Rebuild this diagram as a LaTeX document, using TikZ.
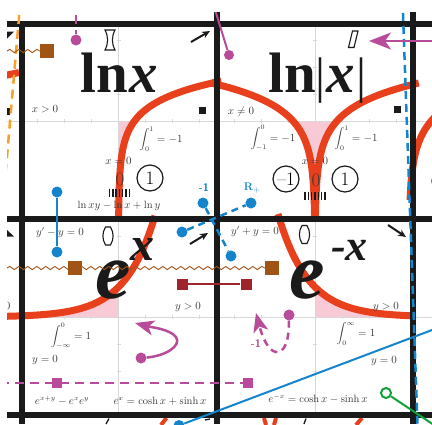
\documentclass[tikz,border=0pt]{standalone}
\usepackage{fontspec}
\newfontfamily\bigserif{Liberation Serif}
\usetikzlibrary{arrows.meta,decorations.pathmorphing}
\definecolor{redc}{RGB}{232,64,28}
\definecolor{pinkc}{RGB}{247,202,214}
\definecolor{magc}{RGB}{184,76,154}
\definecolor{bluec}{RGB}{20,132,204}
\definecolor{brownc}{RGB}{160,84,22}
\definecolor{maroonc}{RGB}{160,36,44}
\definecolor{orangec}{RGB}{248,160,40}
\definecolor{greenc}{RGB}{20,160,60}
\definecolor{gridc}{RGB}{26,26,26}
\definecolor{axisc}{RGB}{216,216,216}
\definecolor{txtc}{RGB}{55,55,55}
\tikzset{
  gridline/.style={draw=gridc, line width=6pt},
  axisline/.style={draw=axisc, line width=0.9pt},
  tickline/.style={draw=axisc, line width=0.8pt},
  redcurve/.style={draw=redc, line width=7pt},
  pinkfill/.style={fill=pinkc},
  txt/.style={text=txtc, inner sep=0pt, font=\fontsize{10.5}{12}\selectfont},
  bigtxt/.style={inner sep=0pt, anchor=base west, text=gridc},
  circnum/.style={circle, draw=gridc, line width=1.2pt, minimum size=26pt, inner sep=0pt, font=\fontsize{19}{20}\selectfont},
  plainnum/.style={inner sep=0pt, font=\fontsize{19}{20}\selectfont, text=txtc},
  bdot/.style={circle, fill=bluec, inner sep=0pt, minimum size=11pt},
  mdot/.style={circle, fill=magc, inner sep=0pt, minimum size=11pt},
  brsq/.style={rectangle, fill=brownc, inner sep=0pt, minimum size=14pt},
  mrsq/.style={rectangle, fill=maroonc, inner sep=0pt, minimum size=11pt},
  mgsq/.style={rectangle, fill=magc, inner sep=0pt, minimum size=10pt},
  bksq/.style={rectangle, fill=gridc, inner sep=0pt, minimum size=7pt},
  blackarrow/.style={draw=gridc, line width=2pt, -{Stealth[length=8pt,width=7pt]}},
  bluedash/.style={draw=bluec, line width=2.5pt, dash pattern=on 7pt off 5pt},
  magdash/.style={draw=magc, line width=2.5pt, dash pattern=on 9pt off 6pt},
  wavy/.style={draw=brownc, line width=0.9pt, decorate, decoration={snake, amplitude=1.6pt, segment length=9pt}},
  symb/.style={draw=gridc, line width=1.1pt, fill=white},
  hatch/.style={draw=gridc, line width=1.4pt},
  frag/.style={draw=redc, line width=4pt}
}
\begin{document}
\begin{tikzpicture}[x=1pt,y=-1pt]
\useasboundingbox (0,0) rectangle (432,424);
\clip (7,12) rectangle (432,424);

% ---------- pink areas ----------
\fill[pinkfill] (118.5,121) -- plot[domain=121:218,samples=60,variable=\t] ({118.5+16*exp((121-\t)/21.5)},{\t}) -- cycle;
\fill[pinkfill] (293,121) -- (337,121) -- plot[domain=121:218,samples=60,variable=\t] ({315+22*exp((121-\t)/24.5)},{\t}) -- plot[domain=218:121,samples=60,variable=\t] ({315-22*exp((121-\t)/24.5)},{\t}) -- cycle;
\fill[pinkfill] (7,317) -- plot[domain=7:118.5,samples=60] (\x,{317-30*exp((\x-118.5)/30)}) -- (118.5,317) -- cycle;
\fill[pinkfill] (315,317) -- plot[domain=315:413,samples=60] (\x,{317-30*exp((315-\x)/30)}) -- (413,317) -- cycle;

% ---------- gray axes ----------
\draw[axisline] (7,121) -- (432,121);
\draw[axisline] (7,317) -- (432,317);
\draw[axisline] (118.5,24) -- (118.5,414);
\draw[axisline] (315,24) -- (315,414);
\foreach \cx in {118.5,315} {
  \foreach \k in {-3,-2,-1,1,2,3} {
    \draw[tickline] (\cx+27*\k,119) -- (\cx+27*\k,123);
    \draw[tickline] (\cx+27*\k,315) -- (\cx+27*\k,319);
    \draw[tickline] (\cx-2,121+27*\k) -- (\cx+2,121+27*\k);
    \draw[tickline] (\cx-2,317+27*\k) -- (\cx+2,317+27*\k);
  }
}

% ---------- red curves ----------
\draw[redcurve] plot[domain=218:81,samples=90,variable=\t] ({118.5+16*exp((121-\t)/21.5)},{\t});
\draw[redcurve] plot[domain=218:83,samples=90,variable=\t] ({315+22*exp((121-\t)/24.5)},{\t});
\draw[redcurve] plot[domain=218:83,samples=90,variable=\t] ({315-22*exp((121-\t)/24.5)},{\t});
\draw[redcurve] plot[domain=5:155,samples=80] (\x,{317-30*exp((\x-118.5)/30)});
\draw[redcurve] plot[domain=278:415,samples=80] (\x,{317-30*exp((315-\x)/30)});
\draw[redcurve] plot[domain=200:110,samples=40,variable=\t] ({409+6*exp((155-\t)/26)},{\t});
\draw[redcurve] (5,75.5) -- (19,72.5);
% fragments of the row below
\draw[frag] (161,425) -- (166.5,418);
\draw[frag] (264,418) -- (266,425);
\draw[frag] (276,418) -- (274,425);
\draw[frag] (356,425) -- (362,418);

% ---------- black grid ----------
\draw[gridline] (7,24) -- (432,24);
\draw[gridline] (7,218.5) -- (432,218.5);
\draw[gridline] (7,414.5) -- (432,414.5);
\draw[gridline] (21.5,21) -- (21.5,424);
\draw[gridline] (217,12) -- (217,424);
\draw[gridline] (413,12) -- (413,424);

% ---------- partial neighbours ----------
\fill[gridc] (5,108) rectangle (10,115);
\fill[gridc] (7,31.5) -- (14,31.5) -- (7,38.5) -- cycle;
\fill[gridc] (7,230) -- (14,236.5) -- (7,236.5) -- cycle;
\node[txt] (n0) at (7.5,306) {$0$};
\draw[gridc, line width=1.2pt] (445,181) circle (13pt);
\draw[gridc, line width=1.3pt] (106,424) -- (109,418.5);
\draw[gridc, line width=1.3pt] (304,424) -- (306,418.5);
\draw[gridc, line width=1.3pt] (205,420) -- (210,419);

% ---------- big titles ----------
\node[bigtxt, font=\bigserif\bfseries\fontsize{57}{60}\selectfont] (lnA) at (80,92) {ln};
\node[bigtxt, font=\bigserif\bfseries\itshape\fontsize{57}{60}\selectfont] (xA) at (129.5,92) {x};
\node[bigtxt, font=\bigserif\bfseries\fontsize{57}{60}\selectfont] (lnB) at (268,92) {ln};
\node[inner sep=0pt, anchor=base, text=gridc, font=\bigserif\fontsize{50}{52}\selectfont] (barL) at (320.5,92) {|};
\node[bigtxt, font=\bigserif\bfseries\itshape\fontsize{57}{60}\selectfont] (xB) at (326,92) {x};
\node[inner sep=0pt, anchor=base, text=gridc, font=\bigserif\fontsize{50}{52}\selectfont] (barR) at (361.5,92) {|};
\node[bigtxt, font=\bigserif\bfseries\itshape\fontsize{80}{84}\selectfont] (eC) at (95,298) {e};
\node[bigtxt, font=\bigserif\bfseries\itshape\fontsize{48}{50}\selectfont] (xC) at (130,260) {x};
\node[bigtxt, font=\bigserif\bfseries\itshape\fontsize{80}{84}\selectfont] (eD) at (289,298) {e};
\node[bigtxt, font=\bigserif\bfseries\itshape\fontsize{44}{46}\selectfont] (xD) at (331,260) {-x};

% ---------- small symbols ----------
\draw[symb] (105,30) -- (115,30) .. controls (111.5,37) and (111.5,43) .. (115,50) -- (105,50) .. controls (108.5,43) and (108.5,37) .. (105,30) -- cycle;
\draw[symb] (348.5,47.5) -- (354,47.5) -- (358,31) -- (352.5,31) -- cycle;
\draw[symb] (105.5,227) -- (110.5,227) .. controls (114,233) and (114,239) .. (110.5,245) -- (105.5,245) .. controls (102,239) and (102,233) .. (105.5,227) -- cycle;
\draw[symb] (302,225.5) -- (307,225.5) .. controls (310.5,231.5) and (310.5,237.5) .. (307,243.5) -- (302,243.5) .. controls (298.5,237.5) and (298.5,231.5) .. (302,225.5) -- cycle;
\node[bksq] (sqA) at (202,110) {};
\node[bksq] (sqB) at (397.5,109.5) {};

% ---------- texts ----------
\node[txt] (t1) at (45,109) {$x>0$};
\node[txt] (t2) at (241,112) {$x\neq 0$};
\node[txt] (t3) at (161,139) {$\displaystyle\int_{0}^{1}=-1$};
\node[txt] (t4) at (273,138) {$\displaystyle\int_{-1}^{0}=-1$};
\node[txt] (t5) at (356,138) {$\displaystyle\int_{0}^{1}=-1$};
\node[txt] (t6) at (118.5,161) {$x=0$};
\node[txt] (t7) at (315,161) {$x=0$};
\node[txt] (t8) at (119,206) {$\ln xy-\ln x+\ln y$};
\node[txt] (t9) at (60,233) {$y'-y=0$};
\node[txt] (t10) at (255,232) {$y'+y=0$};
\node[txt] (t11) at (188,307) {$y>0$};
\node[txt] (t12) at (386,307) {$y>0$};
\node[txt] (t13) at (71,336) {$\displaystyle\int_{-\infty}^{0}=1$};
\node[txt] (t14) at (356,334) {$\displaystyle\int_{0}^{\infty}=1$};
\node[txt] (t15) at (45,360) {$y=0$};
\node[txt] (t16) at (384,361) {$y=0$};
\node[txt] (t17) at (62,401) {$e^{x+y}-e^{x}e^{y}$};
\node[txt] (t18) at (160,401) {$e^{x}=\cosh x+\sinh x$};
\node[txt] (t19) at (318,399) {$e^{-x}=\cosh x-\sinh x$};

% ---------- numbers ----------
\node[plainnum] (z1) at (120,179) {0};
\node[circnum] (c1) at (150,178) {1};
\node[circnum] (c2) at (286,179) {--1};
\node[plainnum] (z2) at (316,180) {0};
\node[circnum] (c3) at (345,179) {1};
\foreach \i in {0,...,6} { \draw[hatch] (109.5+\i*3.3,188.5) -- ++(0,8.5); }
\foreach \i in {0,...,6} { \draw[hatch] (305+\i*3.3,191.5) -- ++(0,8.5); }

% ---------- black arrows ----------
\coordinate (ka1) at (191,42); \coordinate (ka2) at (210,31);
\draw[blackarrow] (ka1) -- (ka2);
\coordinate (kb1) at (190,244); \coordinate (kb2) at (208,233);
\draw[blackarrow] (kb1) -- (kb2);
\coordinate (kc1) at (388,225); \coordinate (kc2) at (406,237);
\draw[blackarrow] (kc1) -- (kc2);

% ---------- orange ----------
\coordinate (or1) at (20.5,0); \coordinate (or2) at (5,180);
\draw[draw=orangec, line width=2.5pt, dash pattern=on 9pt off 6pt] (or1) -- (or2);

% ---------- brown ----------
\node[brsq] (br1) at (47,51) {};
\coordinate (bw1) at (7,51);
\draw[wavy] (bw1) -- (br1.west);
\node[brsq] (br3) at (272,268) {};
\coordinate (bw2) at (7,268);
\draw[wavy] (bw2) -- (br3.west);
\node[brsq] (br2) at (75,268) {};

% ---------- maroon ----------
\node[mrsq] (mr1) at (182,284) {};
\node[mrsq] (mr2) at (246,284) {};
\draw[draw=maroonc, line width=2.5pt] (mr1) -- (mr2);

% ---------- blue ----------
\node[bdot] (b1) at (57,192) {};
\node[bdot] (b2) at (57,252) {};
\draw[draw=bluec, line width=2.5pt] (b1) -- (b2);
\node[bdot] (b3) at (203,203) {};
\node[bdot] (b4) at (251,203) {};
\node[bdot] (b5) at (182,232) {};
\node[bdot] (b6) at (231,256) {};
\draw[bluedash] (b5) -- (b4);
\draw[bluedash] (b3) -- (b6);
\node[text=bluec, inner sep=0pt, font=\sffamily\bfseries\fontsize{11}{12}\selectfont] (lb1) at (204,188) {-1};
\node[text=bluec, inner sep=0pt, font=\bfseries\fontsize{11}{12}\selectfont] (lb2) at (252,188) {R$_{+}$};
\coordinate (bv1) at (402.5,0); \coordinate (bv2) at (417.5,424);
\draw[bluedash, dash pattern=on 8pt off 5pt] (bv1) -- (bv2);
\node[bdot] (b7) at (179,425.5) {};
\coordinate (bl2) at (440,327);
\draw[draw=bluec, line width=2pt] (b7) -- (bl2);

% ---------- green ----------
\node[circle, draw=greenc, fill=white, line width=2pt, minimum size=10pt, inner sep=0pt] (g1) at (386,393) {};
\coordinate (g2) at (440,429);
\draw[draw=greenc, line width=2pt] (g1) -- (g2);

% ---------- magenta ----------
\node[mdot] (m1) at (76,40) {};
\coordinate (m1t) at (76,0);
\draw[magdash] (m1t) -- (m1);
\node[mdot, minimum size=10pt] (m2) at (229,55) {};
\coordinate (m2t) at (212,0);
\draw[draw=magc, line width=2pt] (m2t) -- (m2);
\coordinate (ma1) at (440,41); \coordinate (ma2) at (369,41);
\draw[draw=magc, line width=2.5pt, -{Stealth[length=22pt,width=17pt,inset=6pt]}] (ma1) -- (ma2);
\node[mdot] (m3) at (141,358) {};
\coordinate (m3e) at (135,323);
\draw[draw=magc, line width=2.5pt, -{Stealth[length=19pt,width=15pt,inset=5pt]}] (m3) .. controls (165,356) and (182,346) .. (176,337) .. controls (170,329) and (150,327) .. (m3e);
\node[mdot] (m4) at (289,315) {};
\coordinate (m4e) at (256,313);
\draw[draw=magc, line width=2.5pt, dash pattern=on 7pt off 5pt, -{Stealth[length=19pt,width=15pt,inset=5pt]}] (m4) .. controls (289,340) and (285,353) .. (276,352) .. controls (268,351) and (262,336) .. (m4e);
\node[text=magc, inner sep=0pt, font=\sffamily\bfseries\fontsize{11}{12}\selectfont] (lm1) at (256,344) {-1};
\coordinate (md1) at (0,383);
\node[mgsq] (ms1) at (57,383) {};
\node[mgsq] (ms2) at (248,383) {};
\draw[magdash] (md1) -- (ms2);
\end{tikzpicture}
\end{document}
